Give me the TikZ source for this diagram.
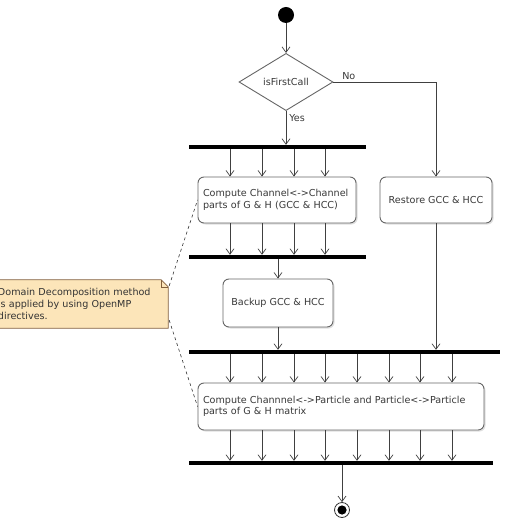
\documentclass[tikz,border=0pt]{standalone}
\usepackage{fontspec}
\setmainfont{DejaVu Sans}
\usetikzlibrary{shapes.geometric,arrows.meta,positioning,calc,shadows,backgrounds}
\definecolor{notefill}{RGB}{252,229,185}
\definecolor{noteline}{RGB}{130,95,60}

\begin{document}
\begin{tikzpicture}[x=1pt,y=-1pt,
  act/.style={draw=black!60,fill=white,rounded corners=6pt,line width=0.9pt,
              font=\fontsize{9.6}{11.5}\selectfont,text=black!78,inner sep=5pt,
              drop shadow={opacity=0.25,shadow xshift=1.5pt,shadow yshift=-1.5pt}},
  bar/.style={fill=black,inner sep=0pt,minimum height=4pt},
  flow/.style={-{Straight Barb[length=5.5pt,width=8pt]},draw=black!75,line width=0.7pt},
  lbl/.style={font=\fontsize{9.6}{11.5}\selectfont,text=black!78,inner sep=1pt},
  anchorline/.style={dashed,draw=black!80,line width=0.6pt}
]
\useasboundingbox (0,0) rectangle (505,529);

\node[circle,fill=black,minimum size=16pt,inner sep=0pt] (start) at (286,15) {};
\node[diamond,draw=black!60,fill=white,line width=0.9pt,inner sep=0pt,
      minimum width=94pt,minimum height=44pt,lbl] (decide) at (286,82) {isFirstCall};

\node[bar,minimum width=177pt] (forkA) at (277.5,147) {};
\node[act,text width=148pt,minimum height=46pt,align=left] (compA) at (277,200)
  {Compute Channel<->Channel\\parts of G \& H (GCC \& HCC)};
\node[act,minimum width=112pt,minimum height=46pt,align=center] (restore) at (436,200)
  {Restore GCC \& HCC};
\node[bar,minimum width=177pt] (joinA) at (277.5,257) {};
\node[act,minimum width=110pt,minimum height=48pt,align=center] (backup) at (278,303)
  {Backup GCC \& HCC};
\node[bar,minimum width=311pt] (forkB) at (344.5,352) {};
\node[act,text width=276pt,minimum height=47pt,align=left] (compB) at (341,406.5)
  {Compute Channnel<->Particle and Particle<->Particle\\parts of G \& H matrix};
\node[bar,minimum width=304pt] (joinB) at (341,463) {};
\node[circle,draw=black!80,fill=white,line width=0.8pt,minimum size=15pt,inner sep=0pt,
      path picture={\fill[black] (path picture bounding box.center) circle (4.6pt);}]
  (stop) at (342,510) {};

\node[minimum width=176pt,minimum height=48pt,inner xsep=6pt,text width=164pt,
      align=left,font=\fontsize{9.6}{12}\selectfont,text=black!80] (note) at (80,304)
  {Domain Decomposition method\\is applied by using OpenMP\\directives.};
\begin{scope}[on background layer]
\draw[fill=notefill,draw=noteline,line width=0.8pt]
  (note.south west) -- (note.north west) -- ($(note.north east)+(-7,0)$)
  -- ($(note.north east)+(0,7)$) -- (note.south east) -- cycle;
\draw[draw=noteline,line width=0.6pt] ($(note.north east)+(-7,0)$) |- ($(note.north east)+(0,7)$);
\end{scope}

\draw[flow] (start) -- (decide.north);
\draw[flow] (decide.south) -- node[lbl,pos=0.2,anchor=west,xshift=2pt]{Yes} (decide.south |- forkA.north);
\draw[flow] (decide.east) -- node[lbl,pos=0.15,anchor=south,yshift=1pt]{No} (restore.north |- decide.east) -- (restore.north);

\foreach \x in {230,262,294,325} {
  \draw[flow] (\x,0 |- forkA.south) -- (\x,0 |- compA.north);
  \draw[flow] (\x,0 |- compA.south) -- (\x,0 |- joinA.north);
}
\draw[flow] (backup.north |- joinA.south) -- (backup.north);
\draw[flow] (backup.south) -- (backup.south |- forkB.north);
\draw[flow] (restore.south) -- (restore.south |- forkB.north);
\foreach \x in {230,262,294,325,357,389,420,452} {
  \draw[flow] (\x,0 |- forkB.south) -- (\x,0 |- compB.north);
  \draw[flow] (\x,0 |- compB.south) -- (\x,0 |- joinB.north);
}
\draw[flow] (stop.north |- joinB.south) -- (stop.north);

\draw[anchorline] ($(note.north east)+(1,6)$) -- (compA.west);
\draw[anchorline] ($(note.south east)+(1,-8)$) -- (compB.west);
\end{tikzpicture}
\end{document}
